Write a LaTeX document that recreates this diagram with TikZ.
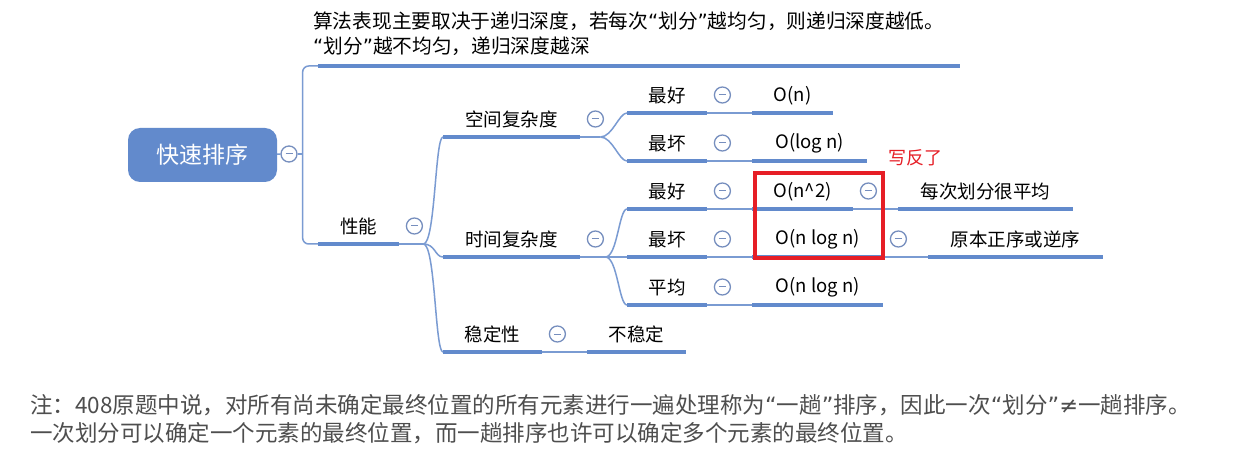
\documentclass[tikz,border=0pt]{standalone}
\usepackage{fontspec}
\setmainfont{Noto Sans CJK SC}
\newfontfamily\qfont{DejaVu Sans}
\newcommand\lquo{{\qfont “}}
\newcommand\rquo{{\qfont ”}}
\usetikzlibrary{calc}
\definecolor{mapblue}{RGB}{98,138,204}
\definecolor{linkblue}{RGB}{122,155,210}
\definecolor{foldgray}{RGB}{118,142,190}
\definecolor{notegray}{RGB}{78,78,78}
\definecolor{markred}{RGB}{230,30,38}

\begin{document}
\begin{tikzpicture}[x=1pt,y=-1pt,
  topic/.style={anchor=south west,inner sep=0pt,minimum height=35pt,font=\fontsize{18.5}{22}\selectfont},
  uline/.style={draw=mapblue,line width=4pt},
  link/.style={draw=linkblue,line width=1.5pt},
  fold/.style={circle,draw=foldgray,line width=1.3pt,minimum size=16pt,inner sep=0pt,fill=white,
    path picture={\draw[foldgray,line width=1pt] ($(path picture bounding box.center)+(-3.5pt,0pt)$) -- ++(7pt,0pt);}},
  branch/.style={to path={.. controls ($(\tikztostart)+(12,0)$) and ($(\tikztotarget)+(-8,0)$) .. (\tikztotarget)}}]
\useasboundingbox[fill=white] (0,0) rectangle (1242,454);

% root and the remark above
\node[fill=mapblue,rounded corners=12pt,minimum width=149pt,minimum height=54pt,
  text=white,font=\fontsize{23}{26}\selectfont] (ks) at (202.5,155) {快速排序};
\node[fold] (ks-f) at (289,154) {};
\node[anchor=south west,inner xsep=0pt,inner ysep=10pt,text width=642pt,align=left,
  font=\fontsize{19.7}{25}\selectfont] (sf) at (318,66)
  {\hspace*{-5pt}算法表现主要取决于递归深度，若每次\lquo 划分\rquo 越均匀，则递归深度越低。\\\hspace*{-5pt}\lquo 划分\rquo 越不均匀，递归深度越深};

% performance
\node[topic,minimum width=81pt] (xn) at (318,244) {性能};
\node[topic,minimum width=137pt] (kj) at (443,137) {空间复杂度};
\node[topic,minimum width=137pt] (sj) at (443,257) {时间复杂度};
\node[topic,minimum width=99pt] (wd) at (443,352) {稳定性};
\node[topic,minimum width=99pt] (wdv) at (587,352) {不稳定};

\node[topic,minimum width=80pt] (k1) at (627,113) {最好};
\node[topic,minimum width=81pt] (k1v) at (752,113) {O(n)};
\node[topic,minimum width=80pt] (k2) at (627,161) {最坏};
\node[topic,minimum width=115pt] (k2v) at (752,161) {O(log n)};

\node[topic,minimum width=80pt] (s1) at (627,209) {最好};
\node[topic,minimum width=101pt] (s1v) at (752,209) {O(n\textasciicircum 2)};
\node[topic,minimum width=175pt] (s1n) at (898,209) {每次划分很平均};
\node[topic,minimum width=80pt] (s2) at (627,257) {最坏};
\node[topic,minimum width=131pt] (s2v) at (752,257) {O(n log n)};
\node[topic,minimum width=175pt] (s2n) at (928,257) {原本正序或逆序};
\node[topic,minimum width=80pt] (s3) at (627,305) {平均};
\node[topic,minimum width=131pt] (s3v) at (752,305) {O(n log n)};

% links
\draw[link] (ks) -- (ks-f);
\draw[link] (ks-f.east) -- ++(5,0);
\draw[link,rounded corners=6pt] (sf.south west) -| ($(ks-f.east)+(5,0)$) |- (xn.south west);

\coordinate (xn-j) at ($(xn.south east)+(24,0)$);
\draw[link] (xn.south east) -- (xn-j);
\foreach \n in {kj,sj,wd} \draw[link] (xn-j) to[branch] (\n.south west);

\coordinate (kj-j) at ($(kj.south east)+(20,0)$);
\draw[link] (kj.south east) -- (kj-j);
\foreach \n in {k1,k2} \draw[link] (kj-j) to[branch] (\n.south west);

\coordinate (sj-j) at ($(sj.south east)+(25,0)$);
\draw[link] (sj.south east) -- (sj-j);
\foreach \n in {s1,s2,s3} \draw[link] (sj-j) to[branch] (\n.south west);

\foreach \a/\b in {k1/k1v,k2/k2v,s1/s1v,s2/s2v,s3/s3v,s1v/s1n,s2v/s2n,wd/wdv}
  \draw[link] (\a.south east) -- (\b.south west);

\foreach \n in {sf,xn,kj,sj,wd,wdv,k1,k1v,k2,k2v,s1,s1v,s1n,s2,s2v,s2n,s3,s3v}
  \draw[uline] (\n.south west) -- (\n.south east);

\foreach \n in {xn,kj,sj,wd,k1,k2,s1,s2,s3,s1v,s2v}
  \node[fold] (\n-f) at ($(\n.south east)+(15,-18)$) {};

% correction mark
\node[draw=markred,line width=3.5pt,minimum width=128pt,minimum height=85pt,inner sep=0pt] (fix) at (819,215.5) {};
\node[text=markred,font=\fontsize{18}{20}\selectfont,inner sep=0pt] (fix-note) at (915,158) {写反了};

% note
\node[anchor=west,align=left,inner sep=0pt,text=notegray,font=\fontsize{22.5}{28}\selectfont] (zhu) at (30,419)
  {注：408原题中说，对所有尚未确定最终位置的所有元素进行一遍处理称为\lquo 一趟\rquo 排序，因此一次\lquo 划分\rquo{\qfont ≠}一趟排序。\\
   一次划分可以确定一个元素的最终位置，而一趟排序也许可以确定多个元素的最终位置。};
\end{tikzpicture}
\end{document}
